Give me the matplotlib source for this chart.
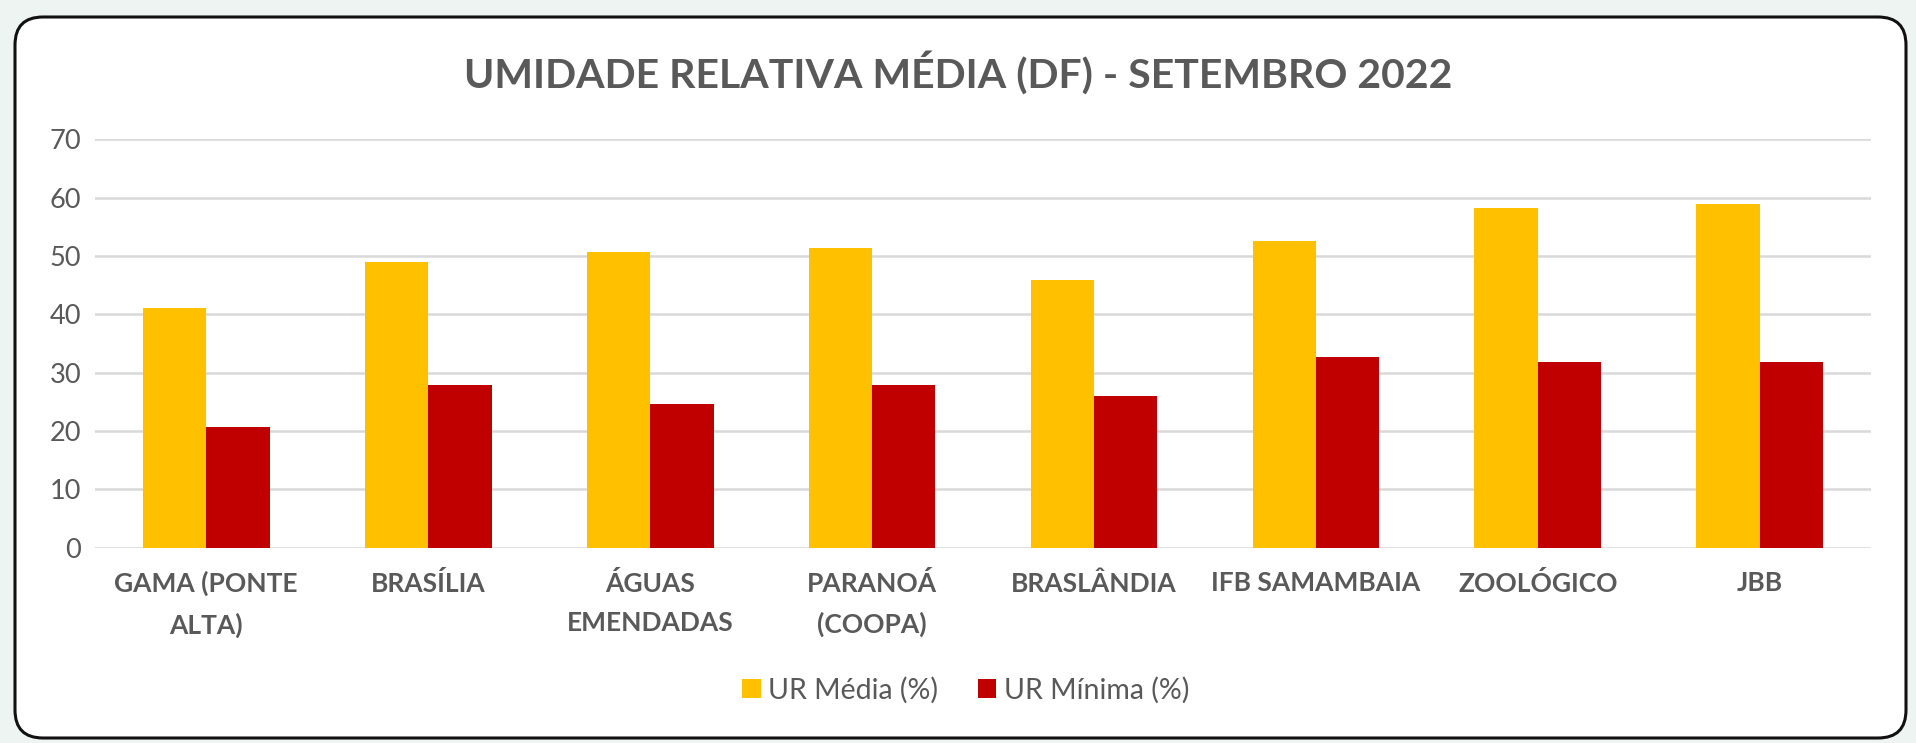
import matplotlib.pyplot as plt
import numpy as np
from matplotlib.patches import FancyBboxPatch
from matplotlib.transforms import IdentityTransform

# data
stations = ["GAMA (PONTE\nALTA)", "BRASÍLIA", "ÁGUAS\nEMENDADAS", "PARANOÁ\n(COOPA)",
            "BRASLÂNDIA", "IFB SAMAMBAIA", "ZOOLÓGICO", "JBB"]
ur_media = [41.1, 48.9, 50.6, 51.4, 45.9, 52.5, 58.3, 58.9]
ur_minima = [20.7, 27.9, 24.6, 27.9, 26.0, 32.6, 31.8, 31.8]
series_names = ["UR Média (%)", "UR Mínima (%)"]
y_ticks = [0, 10, 20, 30, 40, 50, 60, 70]

YELLOW = "#FFC000"
RED = "#C00000"
GREY = "#595959"
FONT = ["Lato", "DejaVu Sans"]

plt.rcParams['font.family'] = FONT

fig = plt.figure(figsize=(19.16, 7.43), dpi=100)
fig.patch.set_facecolor("#eef4f2")

# white card with rounded black border (pixel coordinates)
card = FancyBboxPatch((15, 5), 1891, 721, boxstyle="round,pad=0,rounding_size=28",
                      transform=IdentityTransform(), facecolor="white",
                      edgecolor="#111111", linewidth=2.2, zorder=-10)
fig.patches.append(card)

ax = fig.add_axes([0.0496, 0.2631, 0.9269, 0.5494])
ax.set_facecolor("none")
ax.set_zorder(1)

x = np.arange(len(stations))
w = 0.286
ax.bar(x - w / 2, ur_media, width=w, color=YELLOW, label=series_names[0], zorder=3)
ax.bar(x + w / 2, ur_minima, width=w, color=RED, label=series_names[1], zorder=3)

ax.set_xlim(-0.5, len(stations) - 0.5)
ax.set_ylim(0, 70)
ax.set_yticks(y_ticks)
ax.set_yticklabels([str(t) for t in y_ticks], fontsize=19.5, color=GREY)
ax.yaxis.grid(True, color="#d9d9d9", linewidth=1.8, zorder=0)
ax.set_axisbelow(True)
for s in ax.spines.values():
    s.set_visible(False)
ax.tick_params(axis="y", length=0, pad=10)
ax.tick_params(axis="x", length=0, pad=17)
ax.set_xticks(x)
ax.set_xticklabels(stations, fontsize=19, fontweight="bold", color=GREY,
                   linespacing=1.75, va="top")

fig.text(0.5, 0.902, "UMIDADE RELATIVA MÉDIA (DF) - SETEMBRO 2022", ha="center", va="center",
         fontsize=29.5, fontweight="bold", color=GREY)

leg = fig.legend(loc="center", bbox_to_anchor=(0.504, 0.071), ncol=2, frameon=False,
                 fontsize=20.5, handlelength=0.65, handleheight=0.65, handletextpad=0.25,
                 columnspacing=1.4)
for t in leg.get_texts():
    t.set_color(GREY)

fig.savefig("out.png", dpi=100, facecolor=fig.get_facecolor())
